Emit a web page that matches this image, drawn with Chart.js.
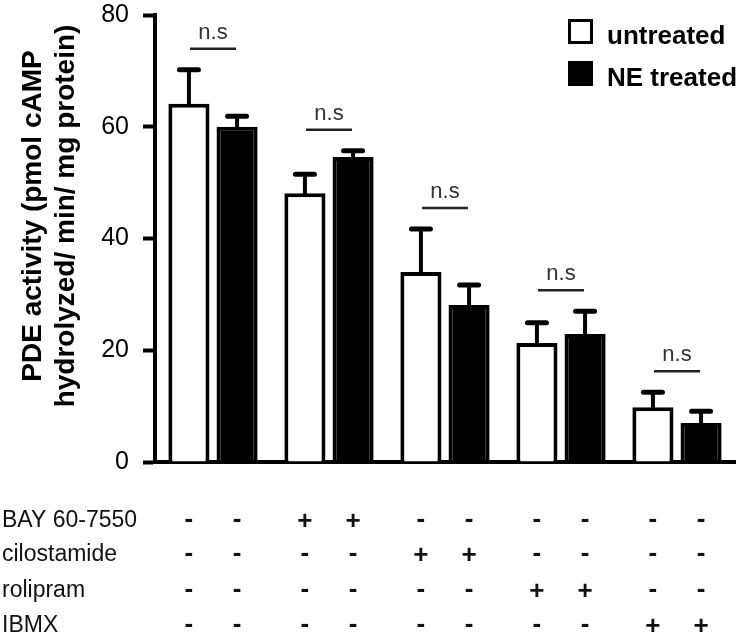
<!DOCTYPE html>
<html>
<head>
<meta charset="utf-8">
<script src="https://cdn.jsdelivr.net/npm/chart.js@4"></script>
<style>
  html, body { margin: 0; padding: 0; background: #fff; }
  #wrap { position: relative; width: 743px; height: 638px; }
</style>
</head>
<body>
<div id="wrap"><canvas id="pdeChart"></canvas></div>
<script>
// conditions (one pair of bars each)
const conditions = ['control', 'BAY 60-7550', 'cilostamide', 'rolipram', 'IBMX'];
const seriesNames = ['untreated', 'NE treated'];

// PDE activity, mean and SD (error bars only drawn upward)
const untreatedMean = [64.1, 48.1, 34.0, 21.3, 9.8];
const untreatedSd   = [6.1, 3.4, 7.7, 3.6, 2.7];
const treatedMean   = [60.0, 54.6, 28.1, 22.9, 7.0];
const treatedSd     = [1.9, 1.1, 3.6, 4.1, 2.1];

const nsLabel = 'n.s';
const yTitle = ['PDE activity (pmol cAMP', 'hydrolyzed/ min/ mg protein)'];
const yTicks = [0, 20, 40, 60, 80];

// treatment table under the bars, one entry per bar
const rowNames = ['BAY 60-7550', 'cilostamide', 'rolipram', 'IBMX'];
const bayRow   = ['-', '-', '+', '+', '-', '-', '-', '-', '-', '-'];
const ciloRow  = ['-', '-', '-', '-', '+', '+', '-', '-', '-', '-'];
const roliRow  = ['-', '-', '-', '-', '-', '-', '+', '+', '-', '-'];
const ibmxRow  = ['-', '-', '-', '-', '-', '-', '-', '-', '+', '+'];
const tableRows = [bayRow, ciloRow, roliRow, ibmxRow];

const means = [untreatedMean, treatedMean];
const sds = [untreatedSd, treatedSd];

Chart.defaults.font.family = '"Liberation Sans", Arial, sans-serif';
Chart.defaults.color = '#000';

const extras = {
    id: 'extras',
    afterDatasetsDraw(chart) {
        const ctx = chart.ctx;
        const y = chart.scales.y;
        const metas = [chart.getDatasetMeta(0), chart.getDatasetMeta(1)];
        const font = '"Liberation Sans", Arial, sans-serif';
        ctx.save();
        ctx.strokeStyle = '#000';

        // error bars
        const capTops = [];
        metas.forEach((meta, d) => {
            meta.data.forEach((bar, i) => {
                const top = y.getPixelForValue(means[d][i] + sds[d][i]);
                capTops[i] = Math.min(capTops[i] === undefined ? 1e9 : capTops[i], top);
                ctx.lineWidth = 4;
                ctx.lineCap = 'butt';
                ctx.beginPath();
                ctx.moveTo(bar.x, bar.y + 2);
                ctx.lineTo(bar.x, top);
                ctx.stroke();
                ctx.lineWidth = 5;
                ctx.lineCap = 'round';
                ctx.beginPath();
                ctx.moveTo(bar.x - 9.5, top);
                ctx.lineTo(bar.x + 9.5, top);
                ctx.stroke();
            });
        });

        // n.s markers
        ctx.lineCap = 'butt';
        conditions.forEach((c, i) => {
            const mid = (metas[0].data[i].x + metas[1].data[i].x) / 2;
            const ly = capTops[i] - 21;
            ctx.strokeStyle = '#222';
            ctx.lineWidth = 2.5;
            ctx.beginPath();
            ctx.moveTo(mid - 23, ly);
            ctx.lineTo(mid + 23, ly);
            ctx.stroke();
            ctx.fillStyle = '#333';
            ctx.font = '22px ' + font;
            ctx.textAlign = 'center';
            ctx.textBaseline = 'alphabetic';
            ctx.fillText(nsLabel, mid, ly - 10);
        });

        // y title
        ctx.fillStyle = '#000';
        ctx.font = 'bold 28px ' + font;
        ctx.textAlign = 'center';
        ctx.textBaseline = 'middle';
        [33, 66].forEach((tx, k) => {
            ctx.save();
            ctx.translate(tx, 216);
            ctx.rotate(-Math.PI / 2);
            ctx.fillText(yTitle[k], 0, 0);
            ctx.restore();
        });

        // legend
        const legendY = [19, 61];
        chart.data.datasets.forEach((ds, d) => {
            ctx.fillStyle = ds.backgroundColor;
            ctx.fillRect(568, legendY[d], 25, 25);
            ctx.strokeStyle = '#000';
            ctx.lineWidth = 3;
            ctx.strokeRect(569.5, legendY[d] + 1.5, 22, 22);
            ctx.fillStyle = '#000';
            ctx.font = 'bold 26px ' + font;
            ctx.textAlign = 'left';
            ctx.textBaseline = 'alphabetic';
            ctx.fillText(ds.label, 607, legendY[d] + 25);
        });

        // treatment table
        const baselines = [527, 561, 597, 632];
        tableRows.forEach((row, r) => {
            ctx.fillStyle = '#111';
            ctx.font = '23px ' + font;
            ctx.textAlign = 'left';
            ctx.fillText(rowNames[r], 2, baselines[r]);
            ctx.font = 'bold 26px ' + font;
            ctx.textAlign = 'center';
            row.forEach((s, k) => {
                const bar = metas[k % 2].data[Math.floor(k / 2)];
                ctx.fillText(s, bar.x, baselines[r] + (s === '+' ? 2 : 0));
            });
        });
        ctx.restore();
    }
};

const ctx = document.getElementById('pdeChart').getContext('2d');
const pdeChart = new Chart(ctx, {
    type: 'bar',
    data: {
        labels: conditions,
        datasets: [{
            label: seriesNames[0],
            data: untreatedMean,
            backgroundColor: '#ffffff',
            borderColor: '#000000',
            borderWidth: 4,
            categoryPercentage: 0.83,
            barPercentage: 0.854
        }, {
            label: seriesNames[1],
            data: treatedMean,
            backgroundColor: '#000000',
            borderColor: '#000000',
            borderWidth: 4,
            categoryPercentage: 0.83,
            barPercentage: 0.854
        }]
    },
    options: {
        responsive: true,
        maintainAspectRatio: false,
        animation: false,
        events: [],
        layout: { padding: { top: 15, right: 8, left: 0, bottom: 0 } },
        plugins: {
            legend: { display: false },
            tooltip: { enabled: false }
        },
        scales: {
            x: {
                ticks: { display: false },
                grid: { display: false },
                border: { display: true, color: '#000', width: 4 },
                afterFit: (scale) => { scale.height = 176; }
            },
            y: {
                min: 0,
                max: 80,
                afterBuildTicks: (scale) => { scale.ticks = yTicks.map(v => ({ value: v })); },
                ticks: {
                    padding: 14,
                    color: '#000',
                    font: { size: 25 }
                },
                grid: {
                    drawOnChartArea: false,
                    tickLength: 12,
                    tickWidth: 4,
                    tickColor: '#000'
                },
                border: { display: true, color: '#000', width: 4 },
                afterFit: (scale) => {
                    scale.width = 155;
                    scale.paddingTop = 0;
                    scale.paddingBottom = 0;
                }
            }
        }
    },
    plugins: [extras]
});
</script>
</body>
</html>
